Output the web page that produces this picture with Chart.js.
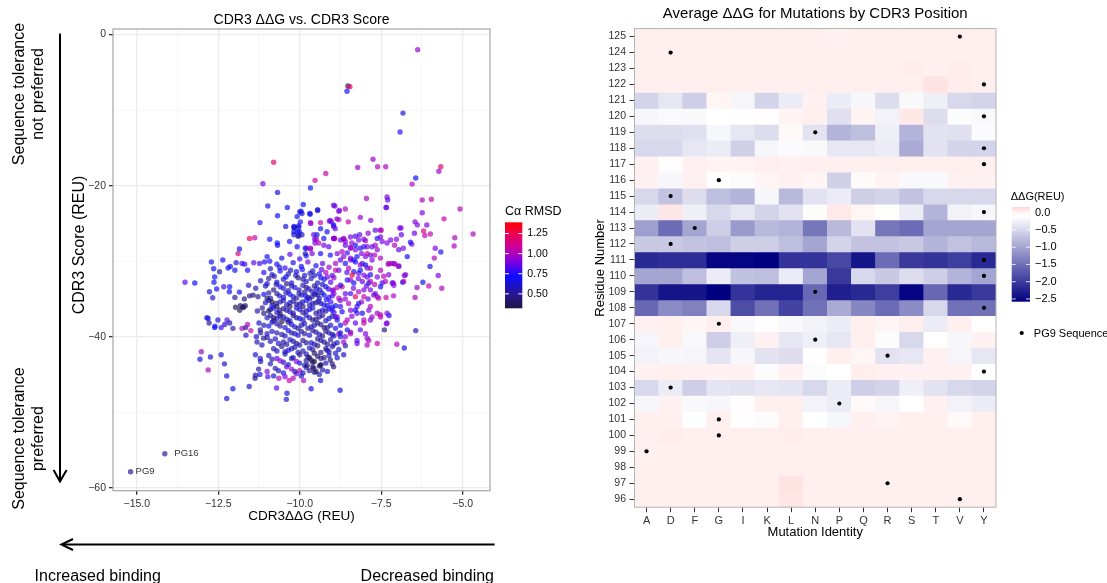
<!DOCTYPE html>
<html>
<head>
<meta charset="utf-8">
<title>CDR3 ΔΔG</title>
<script src="https://cdn.jsdelivr.net/npm/chart.js@4.4.1/dist/chart.umd.min.js"></script>
<style>
  html, body { margin: 0; padding: 0; background: #fff; }
  #wrap { position: relative; width: 1107px; height: 583px; overflow: hidden; background: #fff; }
  canvas, svg { position: absolute; top: 0; }
  #scatter { left: 0; }
  #heat { left: 580px; }
  svg { left: 0; pointer-events: none; }
</style>
</head>
<body>
<div id="wrap">
  <canvas id="scatter" width="580" height="583"></canvas>
  <canvas id="heat" width="527" height="583"></canvas>
  <svg width="1107" height="583" xmlns="http://www.w3.org/2000/svg">
    <g font-family="Liberation Sans, Arial, Helvetica, sans-serif" font-size="16" fill="#000">
      <text transform="translate(18,94) rotate(-90)" text-anchor="middle" dominant-baseline="central">Sequence tolerance</text>
      <text transform="translate(37.5,94) rotate(-90)" text-anchor="middle" dominant-baseline="central">not preferred</text>
      <text transform="translate(18,438.6) rotate(-90)" text-anchor="middle" dominant-baseline="central">Sequence tolerance</text>
      <text transform="translate(37.5,438.6) rotate(-90)" text-anchor="middle" dominant-baseline="central">preferred</text>
      <text x="34.6" y="580.5">Increased binding</text>
      <text x="494" y="580.5" text-anchor="end">Decreased binding</text>
    </g>
    <g stroke="#000" stroke-width="2" fill="none">
      <line x1="60" y1="33.5" x2="60" y2="480"/>
      <polyline points="53.6,470 60,481.4 66.6,470"/>
      <line x1="494.6" y1="544.6" x2="62" y2="544.6"/>
      <polyline points="73,539 61.4,544.6 73,550"/>
    </g>
  </svg>
</div>
<script>
// ---- heatmap: mean ddG per residue position and mutation ----
const aminoAcids = ['A', 'D', 'F', 'G', 'I', 'K', 'L', 'N', 'P', 'Q', 'R', 'S', 'T', 'V', 'Y'];
const residues = [125, 124, 123, 122, 121, 120, 119, 118, 117, 116, 115, 114, 113, 112, 111,
                  110, 109, 108, 107, 106, 105, 104, 103, 102, 101, 100, 99, 98, 97, 96];
// one row per residue (same order as residues), columns follow aminoAcids
const meanDdg = [
  [0.03, 0.03, 0.03, 0.03, 0.03, 0.03, 0.03, 0.03, 0.02, 0.03, 0.03, 0.03, 0.03, 0.03, 0.03],
  [0.03, 0.03, 0.03, 0.03, 0.03, 0.03, 0.03, 0.03, 0.03, 0.03, 0.03, 0.03, 0.03, 0.03, 0.03],
  [0.03, 0.03, 0.03, 0.03, 0.04, 0.03, 0.03, 0.03, 0.03, 0.03, 0.04, 0.05, 0.03, 0.05, 0.03],
  [0.03, 0.03, 0.03, 0.04, 0.03, 0.03, 0.03, 0.03, 0.03, 0.03, 0.03, 0.03, 0.10, 0.05, 0.03],
  [-0.55, -0.35, -0.60, 0.00, -0.22, -0.55, -0.30, 0.02, -0.30, -0.20, -0.45, -0.18, -0.28, -0.50, -0.55],
  [-0.20, -0.17, -0.18, -0.12, -0.11, -0.10, 0.01, 0.03, -0.42, 0.01, -0.25, 0.07, -0.45, -0.15, -0.18],
  [-0.45, -0.45, -0.42, -0.20, -0.35, -0.45, -0.05, -0.40, -0.85, -0.75, -0.28, -0.85, -0.40, -0.42, -0.16],
  [-0.50, -0.50, -0.35, -0.30, -0.58, -0.20, -0.16, -0.18, -0.35, -0.35, -0.30, -0.95, -0.40, -0.55, -0.55],
  [0.02, -0.10, 0.02, 0.01, 0.01, 0.04, 0.02, 0.03, 0.03, 0.03, 0.03, 0.03, 0.03, 0.03, 0.03],
  [0.02, -0.20, 0.02, -0.12, -0.15, 0.00, 0.02, 0.00, -0.58, -0.06, 0.01, -0.18, -0.18, 0.02, 0.02],
  [-0.50, -0.70, -0.45, -0.75, -0.85, -0.20, -0.80, -0.40, -0.30, -0.60, -0.55, -0.70, -0.50, -0.50, -0.50],
  [-0.30, 0.08, -0.28, -0.50, -0.35, -0.55, -0.40, -0.15, 0.07, 0.00, -0.12, -0.30, -0.85, -0.25, -0.20],
  [-1.05, -1.55, -1.00, -0.60, -1.10, -0.80, -0.85, -1.45, -0.80, -0.40, -1.45, -1.55, -1.00, -1.00, -1.00],
  [-0.65, -0.65, -0.70, -0.75, -0.60, -0.60, -0.75, -1.00, -0.55, -0.70, -0.70, -0.65, -0.85, -0.70, -0.80],
  [-2.20, -2.15, -2.15, -2.55, -2.55, -2.65, -2.10, -2.10, -1.90, -2.40, -1.55, -2.05, -2.10, -2.00, -2.20],
  [-1.00, -1.00, -0.75, -0.30, -0.72, -0.75, -0.30, -1.00, -2.05, -0.50, -0.65, -0.45, -0.60, -0.85, -1.00],
  [-2.10, -2.40, -2.40, -2.60, -2.10, -2.25, -2.25, -1.60, -2.30, -2.20, -2.00, -2.55, -1.60, -2.20, -2.05],
  [-1.60, -1.25, -1.35, -0.50, -1.85, -1.50, -1.95, -1.50, -0.95, -1.30, -1.55, -1.25, -0.50, -1.50, -1.50],
  [0.02, 0.03, 0.00, 0.03, -0.18, -0.10, -0.18, -0.25, -0.30, 0.03, 0.00, 0.04, -0.30, 0.03, -0.12],
  [-0.22, 0.03, -0.18, -0.60, -0.28, 0.02, -0.35, -0.28, -0.35, 0.03, -0.15, -0.50, -0.12, -0.20, 0.02],
  [-0.25, -0.20, -0.22, -0.38, -0.20, -0.40, -0.45, -0.10, 0.03, 0.00, -0.40, -0.35, 0.02, -0.22, -0.35],
  [0.02, 0.03, 0.02, 0.02, 0.02, -0.15, 0.02, -0.15, -0.12, 0.04, 0.02, 0.02, 0.02, 0.02, -0.12],
  [-0.50, -0.30, -0.60, -0.38, -0.40, -0.35, -0.38, -0.50, -0.30, -0.60, -0.55, -0.28, -0.40, -0.50, -0.55],
  [-0.20, 0.02, -0.18, -0.20, -0.10, 0.03, 0.03, -0.25, -0.30, -0.05, -0.22, -0.12, 0.02, -0.25, -0.30],
  [0.03, 0.03, -0.12, 0.03, -0.10, -0.15, 0.03, -0.12, -0.20, 0.03, 0.01, 0.03, 0.03, -0.05, 0.03],
  [0.03, 0.05, 0.03, 0.03, 0.04, 0.04, 0.05, 0.03, 0.03, 0.03, 0.03, 0.03, 0.03, 0.03, 0.03],
  [0.02, 0.03, 0.03, 0.03, 0.03, 0.03, 0.03, 0.03, 0.03, 0.03, 0.03, 0.03, 0.03, 0.03, 0.03],
  [0.03, 0.03, 0.03, 0.03, 0.03, 0.03, 0.03, 0.03, 0.03, 0.03, 0.03, 0.03, 0.03, 0.03, 0.03],
  [0.03, 0.03, 0.03, 0.03, 0.03, 0.03, 0.10, 0.03, 0.03, 0.03, 0.03, 0.03, 0.03, 0.03, 0.03],
  [0.03, 0.03, 0.03, 0.03, 0.03, 0.03, 0.08, 0.03, 0.03, 0.03, 0.03, 0.03, 0.03, 0.03, 0.03]
];
// native PG9 residue at each CDR3 position
const pg9Sequence = [
  [125, 'V'], [124, 'D'], [122, 'Y'], [120, 'Y'], [119, 'N'], [118, 'Y'], [117, 'Y'], [116, 'G'],
  [115, 'D'], [114, 'Y'], [113, 'F'], [112, 'D'], [111, 'Y'], [110, 'Y'], [109, 'N'], [108, 'Y'],
  [107, 'G'], [106, 'N'], [105, 'R'], [104, 'Y'], [103, 'D'], [102, 'P'], [101, 'G'], [100, 'G'],
  [99, 'A'], [97, 'R'], [96, 'V']
];
const ddgLegendTicks = [0, -0.5, -1, -1.5, -2, -2.5];

// ---- scatter: designs as [CDR3 ddG, CDR3 score, Ca RMSD] ----
const designs = [
  [-6.38,-2.0,0.95],[-8.52,-6.8,0.35],[-8.46,-6.9,1.2],[-8.55,-7.5,0.7],[-6.83,-10.4,0.65],[-6.92,-12.9,0.75],
  [-10.8,-16.9,1.2],[-7.75,-16.5,0.95],[-8.22,-17.6,0.95],[-7.61,-17.5,1.0],[-7.36,-17.5,1.0],[-5.67,-17.5,1.2],[-5.73,-18.1,0.95],
  [-9.2,-18.4,1.05],[-9.53,-19.3,1.1],[-11.13,-19.75,0.9],[-9.67,-20.3,0.7],[-10.68,-20.9,0.65],[-6.44,-19.0,0.72],[-6.55,-19.8,1.0],
  [-7.32,-21.5,0.9],[-7.3,-21.9,0.85],[-7.95,-21.7,1.0],[-6.24,-21.9,1.0],[-5.96,-21.8,1.05],[-5.08,-23.1,1.0],[-6.24,-23.6,0.9],
  [-7.35,-22.9,0.9],[-5.57,-24.4,1.05],[-4.68,-26.4,1.0],[-5.24,-26.9,1.0],[-5.26,-28.0,1.0],[-6.46,-24.8,0.9],[-6.39,-25.2,0.9],
  [-6.1,-25.2,0.9],[-6.2,-26.0,1.15],[-6.16,-26.6,1.05],[-6.48,-26.3,0.85],[-6.56,-27.75,0.9],[-5.99,-26.4,1.05],[-5.84,-28.3,0.9],
  [-5.67,-28.8,0.75],[-5.87,-29.6,1.0],[-6.0,-30.7,0.7],[-5.75,-31.9,0.9],[-5.64,-33.6,1.0],[-6.04,-33.3,1.05],[-6.22,-32.8,0.7],
  [-6.44,-39.2,0.6],[-6.46,-34.8,1.0],[-6.89,-25.6,0.9],[-6.82,-28.3,0.9],[-6.7,-29.4,0.7],[-6.79,-31.9,0.9],[-6.84,-32.8,0.7],
  [-7.02,-41.0,1.0],[-6.79,-41.5,0.65],[-7.26,-37.2,0.7],[-7.34,-38.3,0.85],[-7.4,-39.1,0.45],[-7.12,-34.6,1.0],[-7.35,-34.8,1.05],
  [-7.13,-32.9,1.0],[-7.07,-30.4,1.1],[-7.28,-30.4,0.9],
  [-11.85,-28.4,0.7],[-11.89,-29.0,1.15],[-11.54,-27.0,1.25],[-11.38,-26.9,1.05],[-11.22,-24.9,0.75],[-10.98,-22.7,0.65],[-10.68,-24.0,0.7],
  [-10.38,-22.9,0.7],[-10.43,-25.4,0.65],[-10.17,-25.6,0.65],[-10.03,-25.3,0.7],[-9.89,-22.5,0.7],[-9.96,-23.4,0.6],[-9.68,-23.8,0.7],
  [-9.45,-23.2,0.75],[-8.92,-22.7,0.9],[-8.8,-23.4,0.9],[-9.09,-24.7,0.85],[-8.86,-24.4,0.9],[-8.51,-24.8,1.05],[-8.14,-24.2,0.95],
  [-7.82,-24.6,0.9],[-9.66,-25.0,0.85],[-9.36,-24.9,1.05],[-9.54,-27.1,0.85],[-8.94,-27.0,1.2],[-8.65,-27.1,0.75],[-7.9,-26.3,0.95],
  [-7.53,-25.9,1.0],[-7.52,-26.8,0.9],
  [-10.92,-27.1,0.7],[-10.68,-27.9,0.7],[-10.03,-26.6,0.5],[-9.49,-27.1,1.0],[-9.53,-27.6,0.9],[-9.79,-28.3,1.0],[-9.67,-28.4,1.0],
  [-12.71,-30.1,0.7],[-12.36,-29.85,0.7],[-12.64,-31.0,0.7],[-12.46,-31.4,0.5],[-12.13,-30.7,0.7],[-11.95,-30.2,0.6],[-11.99,-31.2,0.7],
  [-11.77,-30.3,0.8],[-11.69,-30.4,0.8],[-11.41,-30.2,0.85],[-11.23,-30.3,0.8],[-11.08,-30.1,0.7],[-10.92,-30.0,0.75],
  [-13.52,-32.8,0.85],[-13.22,-32.9,0.7],[-12.61,-32.1,0.7],[-12.63,-32.8,0.7],[-12.55,-33.7,0.75],[-12.77,-34.05,0.6],[-12.67,-34.85,0.6],
  [-12.33,-33.4,0.8],[-12.15,-33.4,0.7],[-12.16,-34.05,0.7],[-11.85,-34.1,0.7],[-11.57,-33.2,0.6],[-11.99,-34.8,0.5],[-11.7,-35.0,0.45],
  [-11.54,-34.6,0.5],[-11.43,-34.5,0.45],[-11.28,-34.7,0.5],[-11.82,-35.9,0.4],[-11.72,-36.1,0.4],[-11.97,-36.1,0.35],[-11.84,-36.5,0.35],
  [-11.75,-36.1,0.4],[-11.67,-35.9,0.4],[-12.81,-37.6,0.7],[-12.78,-38.2,0.5],[-12.61,-38.8,0.7],[-12.41,-38.8,0.8],[-12.51,-37.8,0.65],
  [-12.23,-37.8,0.85],[-12.15,-38.2,0.6],[-11.77,-38.9,1.0],[-11.66,-38.8,0.5],
  [-11.21,-39.1,0.55],[-11.33,-40.0,0.6],[-11.11,-40.2,0.5],[-11.31,-40.7,0.55],[-11.16,-41.1,0.6],
  [-12.2,-30.9,0.7],[-11.6,-31.2,0.7],[-11.0,-29.4,0.7],[-10.55,-29.6,0.65],[-10.3,-29.1,0.85],[-10.0,-29.7,0.8],[-9.8,-29.3,0.7],
  [-10.18,-25.4,0.7],[-10.03,-25.5,0.65],[-10.06,-26.1,0.7],[-9.93,-26.5,0.6],[-10.18,-26.5,0.65],[-10.69,-27.6,0.7],[-10.31,-27.4,0.75],[-10.08,-28.1,0.7],
  [-9.03,-24.8,0.85],[-8.96,-25.4,0.9],[-8.8,-24.5,1.0],
  [-9.57,-26.5,0.85],[-9.42,-27.6,1.0],[-9.26,-27.9,0.9],[-9.11,-28.1,0.85],[-8.96,-27.0,0.9],[-9.67,-28.3,0.95],[-9.83,-28.3,0.7],
  [-9.83,-29.0,0.6],[-9.62,-29.0,0.9],[-9.36,-29.0,0.7],[-9.06,-29.2,0.75],[-8.85,-29.0,0.9],[-8.7,-28.75,1.0],[-8.6,-27.4,0.95],
  [-8.44,-26.8,0.9],[-8.29,-26.7,0.8],[-8.19,-27.2,0.9],[-7.98,-27.3,1.0],[-8.29,-27.9,0.7],[-8.44,-28.2,0.85],[-8.14,-28.3,0.75],
  [-7.93,-28.1,0.9],[-7.68,-27.9,1.0],[-7.47,-27.4,0.9],[-7.62,-28.5,0.95],[-7.83,-29.2,0.85],[-7.98,-29.4,0.9],[-8.24,-29.4,0.7],
  [-8.44,-29.6,0.9],[-8.54,-28.9,0.8],
  [-7.27,-30.3,1.05],[-7.11,-30.3,0.9],[-6.96,-30.7,1.0],[-6.75,-31.8,0.9],[-6.4,-33.5,0.95],[-6.81,-32.7,1.0],[-7.16,-32.9,0.85],
  [-7.37,-32.7,1.0],[-7.27,-31.8,0.9],[-7.52,-31.2,1.0],[-7.62,-32.1,0.9],[-7.83,-31.8,0.75],[-7.93,-30.9,0.9],[-8.08,-30.3,0.85],
  [-8.75,-29.85,0.85],[-8.6,-30.3,0.7],[-8.44,-29.85,0.9],[-8.29,-30.1,0.75],[-8.14,-30.5,0.9],[-7.98,-30.5,0.65],[-7.83,-30.95,1.0],
  [-8.34,-31.4,0.7],[-8.19,-31.6,0.85],[-8.39,-31.85,1.3],[-8.03,-31.85,0.9],[-8.54,-32.5,0.75],[-8.7,-33.4,1.15],[-8.34,-32.9,0.7],
  [-8.08,-32.7,0.85],[-7.88,-32.9,0.7],[-7.83,-33.8,0.9],[-8.19,-34.05,1.0],[-8.44,-34.3,0.8],[-8.03,-34.7,1.05],[-7.73,-34.5,0.9],
  [-7.58,-34.9,1.0],[-7.47,-32.9,0.85],[-8.75,-35.2,0.9],[-8.5,-35.6,1.0],[-8.24,-36.0,0.85],[-7.88,-36.5,0.9],[-7.62,-36.9,0.95],
  [-9.01,-36.5,0.75],[-8.85,-37.4,0.9],[-8.54,-37.8,1.0],[-8.24,-36.9,0.85],[-8.03,-38.2,1.05],[-7.83,-37.8,0.9],[-7.52,-37.4,1.0],
  [-7.32,-38.2,0.95],[-8.14,-39.1,0.85],[-8.44,-39.6,1.0],[-8.6,-40.0,0.9],[-7.93,-40.2,0.95],[-7.62,-40.9,1.05],[-8.24,-40.9,0.85],
  [-8.75,-38.5,0.7],
  [-10.0,-23.5,0.7],[-9.93,-23.7,0.65],[-10.08,-24.1,0.7],[-9.98,-24.8,0.75],[-10.16,-25.5,0.6],[-10.01,-26.1,0.7],[-10.05,-26.7,0.55],
  [-10.18,-26.1,0.65],[-9.69,-23.7,0.7],[-9.45,-23.3,0.6],[-9.67,-24.9,1.0],[-9.36,-25.7,0.7],[-9.47,-26.5,0.65],[-9.26,-27.0,0.7],
  [-9.06,-24.6,0.9],[-8.96,-22.6,0.85],[-8.78,-23.3,0.9],[-8.6,-23.1,1.0],[-8.96,-25.2,0.7],[-9.16,-26.1,0.7],[-8.96,-27.0,1.0],[-8.65,-27.0,1.0],
  [-7.34,-22.9,0.85],[-6.6,-27.5,0.7],[-6.93,-25.6,0.9],[-6.88,-26.5,0.85],[-7.03,-27.1,0.9],[-7.09,-27.9,1.0],[-6.96,-28.5,0.85],
  [-7.21,-27.2,0.9],[-7.32,-27.6,0.9],[-7.5,-25.9,1.0],[-7.68,-25.9,0.85],[-7.62,-27.0,0.75],[-7.78,-28.1,0.85],[-8.03,-27.1,0.9],
  [-8.16,-26.5,0.85],[-8.91,-25.7,0.85],[-8.93,-27.0,0.9],
  [-6.96,-30.65,0.9],[-7.18,-30.3,0.95],[-7.42,-32.0,1.0],[-7.52,-33.4,0.7],[-7.11,-33.2,0.9],[-7.83,-32.7,1.0],[-7.62,-34.7,1.0],
  [-7.88,-40.5,1.0],[-7.93,-41.1,1.0],
  [-8.75,-27.2,0.9],[-8.6,-27.9,0.85],[-8.44,-28.3,1.0],[-8.29,-28.5,0.9],[-8.03,-28.1,0.8],[-7.93,-29.0,1.05],[-7.78,-29.85,0.9],
  [-7.52,-29.6,1.0],[-8.34,-29.85,0.75],[-8.65,-29.4,0.9],[-8.9,-30.3,1.0],[-8.8,-31.2,0.85],[-8.5,-30.95,1.0],[-8.14,-31.2,0.7],
  [-7.93,-32.1,0.85],[-8.44,-32.5,0.9],[-8.75,-33.2,0.75],[-8.96,-33.8,1.0],[-8.6,-34.3,0.85],[-8.29,-34.7,1.2],[-8.03,-33.8,0.9],
  [-7.68,-34.3,0.85],[-7.83,-36.0,1.0],[-8.08,-36.9,0.7],[-8.44,-36.5,0.9],[-8.75,-36.0,0.8],[-8.9,-37.4,0.9],[-8.6,-38.2,1.0],
  [-8.29,-38.2,0.85],[-8.03,-37.8,1.0],[-7.78,-37.4,0.95],[-7.52,-37.1,1.05],[-7.32,-36.9,0.9],[-7.98,-39.6,0.9],[-8.44,-39.4,0.95],
  [-8.8,-39.6,1.0],[-8.65,-40.7,0.95],[-8.24,-40.5,0.85],
  [-8.4,-27.6,0.95],[-8.1,-29.0,0.9],[-7.7,-29.2,1.0],[-8.55,-31.5,0.85],[-8.2,-32.3,0.9],[-7.95,-33.3,0.85],[-7.7,-33.1,1.0],
  [-8.35,-33.6,0.9],[-8.6,-35.0,0.95],[-8.1,-35.4,1.0],[-7.9,-35.0,0.85],[-8.4,-37.3,0.9],[-8.7,-36.7,0.75],
  [-10.7,-30.4,0.7],[-10.45,-30.9,0.8],[-10.2,-30.2,0.65],[-9.95,-30.7,0.7],[-9.75,-30.1,0.9],[-9.5,-30.6,0.75],[-9.3,-30.3,0.85],
  [-9.1,-30.8,0.95],[-10.9,-31.0,0.6],
  [-11.1,-31.5,0.75],[-10.85,-31.8,0.6],[-10.6,-31.3,0.7],[-10.35,-31.7,0.55],[-10.1,-31.4,0.7],[-9.85,-31.9,0.65],[-9.6,-31.3,0.6],
  [-9.4,-31.7,0.7],[-9.2,-31.5,1.0],[-9.0,-31.9,0.8],[-8.9,-31.2,1.05],
  [-10.62,-30.8,0.65],[-10.28,-31.2,0.6],[-9.92,-31.1,0.75],[-9.68,-31.6,0.55],[-9.33,-31.1,0.85],[-10.78,-32.0,0.55],[-10.42,-32.1,0.7],
  [-10.12,-31.9,0.6],[-9.9,-32.4,0.5],[-9.55,-31.9,0.6],[-9.35,-32.2,0.65],[-9.15,-32.1,0.9],
  [-11.2,-32.6,0.6],[-10.95,-32.3,0.5],[-10.7,-32.8,0.65],[-10.5,-32.4,0.6],[-10.25,-32.9,0.7],[-10.05,-32.2,0.5],[-9.8,-32.7,0.6],
  [-9.65,-32.3,0.55],[-9.45,-32.9,0.6],[-9.25,-32.4,0.7],[-9.05,-32.8,0.85],[-8.95,-32.2,0.95],[-10.4,-33.0,0.45],
  [-11.0,-33.0,0.65],[-10.72,-33.1,0.55],[-10.5,-33.6,0.6],[-10.25,-33.3,0.5],[-10.02,-33.8,0.6],[-9.8,-33.5,0.45],[-9.48,-33.6,0.65],
  [-9.3,-33.1,0.6],[-9.12,-33.7,0.8],
  [-11.35,-33.6,0.55],[-11.05,-33.3,0.6],[-10.8,-33.8,0.45],[-10.6,-33.4,0.7],[-10.35,-33.9,0.6],[-10.15,-33.5,0.65],[-9.9,-33.2,0.55],
  [-9.72,-33.7,0.6],[-9.55,-33.3,0.5],[-9.38,-33.8,0.55],[-9.2,-33.4,0.65],[-9.0,-33.9,0.9],[-8.85,-33.5,1.0],[-9.62,-34.0,0.55],[-9.85,-34.1,0.5],
  [-10.95,-34.2,0.5],[-10.62,-34.6,0.6],[-10.42,-34.2,0.55],[-10.2,-34.7,0.65],[-10.02,-34.3,0.5],[-9.82,-34.6,0.7],[-9.62,-34.7,0.55],
  [-9.45,-34.5,0.45],[-9.32,-34.2,0.6],[-9.18,-35.1,0.7],[-9.0,-34.6,0.85],
  [-11.1,-34.4,0.7],[-10.9,-34.9,0.55],[-10.7,-34.3,0.5],[-10.5,-34.8,0.65],[-10.3,-34.4,0.7],[-10.1,-34.9,0.55],[-9.95,-34.5,0.6],
  [-9.75,-34.8,0.5],[-9.55,-34.4,0.55],[-9.4,-34.9,0.6],[-9.25,-34.5,0.7],[-9.1,-34.8,0.75],[-8.95,-34.3,0.9],[-8.8,-34.9,1.0],
  [-9.5,-34.2,0.6],[-9.7,-35.0,0.6],
  [-10.95,-35.2,0.6],[-10.72,-35.6,0.5],[-10.5,-35.2,0.55],[-10.3,-35.5,0.65],[-10.1,-35.7,0.5],[-9.92,-35.4,0.6],[-9.7,-35.8,0.55],
  [-9.5,-35.5,0.45],[-9.35,-35.6,0.6],[-9.15,-35.9,0.65],
  [-11.05,-35.5,0.6],[-10.85,-35.9,0.7],[-10.6,-35.4,0.55],[-10.4,-35.8,0.6],[-10.2,-35.3,0.5],[-10.0,-35.7,0.55],[-9.8,-35.2,0.65],
  [-9.6,-35.6,0.6],[-9.42,-35.3,0.55],[-9.25,-35.8,0.65],[-9.05,-35.4,0.8],[-8.9,-35.9,0.7],[-10.3,-36.0,0.4],[-9.9,-36.0,0.45],
  [-11.15,-36.2,0.5],[-10.8,-36.2,0.6],[-10.62,-36.5,0.55],[-10.4,-36.5,0.6],[-10.2,-36.9,0.5],[-10.0,-36.4,0.65],[-9.8,-36.6,0.55],
  [-9.6,-36.2,0.6],[-9.4,-36.7,0.5],[-9.2,-36.6,0.45],[-9.0,-36.1,0.7],
  [-11.3,-36.6,0.55],[-11.1,-36.9,0.45],[-10.9,-36.4,0.65],[-10.7,-36.8,0.6],[-10.5,-36.3,0.45],[-10.3,-36.7,0.55],[-10.1,-36.2,0.6],
  [-9.9,-36.8,0.5],[-9.7,-36.4,0.65],[-9.5,-36.9,0.55],[-9.3,-36.5,0.6],[-9.1,-36.3,0.75],[-8.95,-36.8,0.8],
  [-10.9,-37.2,0.55],[-10.7,-37.6,0.6],[-10.5,-37.4,0.5],[-10.3,-37.9,0.6],[-10.1,-37.5,0.45],[-9.9,-37.8,0.55],[-9.7,-37.5,0.6],
  [-9.5,-37.7,0.5],[-9.3,-37.2,0.55],[-9.1,-37.6,0.65],
  [-11.0,-37.5,0.6],[-10.8,-37.9,0.5],[-10.6,-37.3,0.65],[-10.4,-37.7,0.6],[-10.2,-37.2,0.55],[-10.0,-37.6,0.7],[-9.8,-37.2,0.6],
  [-9.6,-37.8,0.45],[-9.4,-37.4,0.5],[-9.2,-37.9,0.6],[-9.0,-37.3,0.55],[-8.85,-37.8,0.65],
  [-11.1,-38.5,0.55],[-10.85,-38.1,0.6],[-10.6,-38.6,0.5],[-10.35,-38.1,0.45],[-10.15,-38.7,0.6],[-9.95,-38.5,0.55],[-9.75,-38.9,0.5],
  [-9.55,-38.5,0.6],[-9.35,-38.4,0.55],[-9.15,-38.8,0.5],
  [-11.25,-38.2,0.6],[-10.95,-38.6,0.7],[-10.7,-38.3,0.55],[-10.45,-38.8,0.6],[-10.25,-38.4,0.65],[-10.05,-38.9,0.5],[-9.85,-38.3,0.6],
  [-9.65,-38.7,0.55],[-9.45,-38.2,0.45],[-9.25,-38.8,0.4],[-9.05,-38.5,0.6],[-8.9,-38.9,0.7],
  [-11.0,-39.6,0.6],[-10.7,-39.5,0.55],[-10.45,-39.9,0.6],[-10.25,-39.5,0.5],[-10.05,-39.8,0.65],[-9.85,-39.6,0.5],[-9.6,-39.2,0.55],
  [-9.4,-39.7,0.6],[-9.2,-39.3,0.5],[-9.0,-39.7,0.55],
  [-10.85,-39.3,0.6],[-10.55,-39.7,0.55],[-10.35,-39.2,0.7],[-10.15,-39.6,0.6],[-9.95,-39.3,0.55],[-9.7,-39.8,0.65],[-9.5,-39.4,0.5],
  [-9.3,-39.9,0.45],[-9.1,-39.5,0.55],[-8.95,-39.9,0.6],[-8.75,-39.5,0.7],
  [-10.9,-40.6,0.55],[-10.65,-40.9,0.6],[-10.4,-41.0,0.5],[-10.2,-40.6,0.55],[-10.0,-41.1,0.6],[-9.8,-40.8,0.5],[-9.55,-41.0,0.55],
  [-9.35,-40.5,0.6],[-9.15,-41.0,0.5],[-8.95,-41.0,0.55],
  [-10.75,-40.3,0.6],[-10.5,-40.7,0.55],[-10.3,-40.4,0.6],[-10.1,-40.9,0.45],[-9.9,-40.5,0.5],[-9.65,-40.8,0.6],[-9.45,-40.3,0.5],
  [-9.25,-40.7,0.45],[-9.05,-40.4,0.55],[-8.85,-40.8,0.6],
  [-10.7,-41.9,0.6],[-10.45,-42.0,0.55],[-10.25,-41.6,0.5],[-10.05,-42.1,0.6],[-9.8,-42.3,0.55],[-9.6,-41.7,0.5],[-9.35,-42.1,0.45],
  [-9.1,-42.0,0.55],[-8.9,-42.2,0.6],
  [-10.8,-41.6,0.55],[-10.55,-41.3,0.5],[-10.35,-41.8,0.75],[-10.15,-41.4,0.6],[-9.9,-41.9,0.55],[-9.7,-41.5,0.6],[-9.45,-41.2,0.45],
  [-9.2,-41.6,0.5],[-9.0,-41.3,0.55],[-8.8,-41.7,0.6],[-8.6,-41.2,0.55],
  [-10.95,-42.5,0.6],[-10.7,-42.9,0.85],[-10.45,-42.3,0.55],[-10.2,-42.8,0.6],[-10.0,-42.4,0.5],[-9.75,-42.7,0.55],[-9.55,-42.2,0.4],
  [-9.35,-42.9,0.5],[-9.1,-42.5,0.6],[-8.85,-42.8,0.65],[-8.65,-42.4,0.6],
  [-10.85,-43.0,0.55],[-10.5,-43.4,0.6],[-10.25,-42.9,0.55],[-10.0,-43.5,0.65],[-9.8,-43.2,0.5],[-9.25,-42.8,0.45],[-9.0,-43.6,0.5],
  [-11.2,-43.3,0.6],[-10.9,-43.6,0.55],[-10.6,-43.2,0.95],[-10.35,-43.7,0.6],[-10.1,-43.3,0.9],[-9.85,-43.8,0.55],[-9.6,-43.4,0.45],
  [-9.4,-43.9,0.5],[-9.65,-43.1,0.4],[-9.2,-43.5,0.6],
  [-11.0,-44.6,0.9],[-10.75,-44.2,0.55],[-10.5,-44.8,0.65],[-10.25,-44.3,0.95],[-10.0,-44.5,1.0],[-9.8,-44.1,0.55],[-9.55,-44.7,0.5],
  [-9.3,-44.4,0.55],[-10.1,-44.9,0.85],
  [-10.65,-44.5,0.6],[-10.4,-44.0,0.85],[-10.15,-44.6,0.55],[-9.9,-44.8,0.6],[-9.7,-44.5,0.5],[-9.4,-45.0,0.55],[-9.15,-44.6,0.6],
  [-10.45,-45.3,0.9],[-10.2,-45.5,1.0],[-9.95,-45.2,0.6],
  [-13.02,-42.0,0.95],[-13.06,-43.0,0.65],[-12.81,-44.4,1.0],[-12.74,-42.7,0.65],[-12.41,-42.4,0.65],[-12.31,-43.6,0.6],[-12.24,-45.2,0.65],
  [-12.05,-46.9,0.65],[-12.24,-48.2,0.65],[-11.55,-46.6,0.6],[-11.37,-45.5,0.45],[-11.22,-45.0,0.65],[-10.98,-45.3,0.8],[-10.71,-46.8,0.85],
  [-10.39,-47.5,0.65],[-10.41,-48.3,0.65],[-10.32,-45.8,1.05],[-9.88,-45.8,1.0],[-9.65,-46.9,0.65],[-9.36,-45.8,0.65],[-8.76,-47.1,0.65],
  [-11.36,-42.4,0.65],[-11.21,-42.9,0.6],[-11.26,-44.3,0.55],[-11.36,-45.1,0.6],[-10.64,-45.5,1.0],[-10.8,-45.2,0.6],
  [-12.85,-37.5,0.65],[-12.6,-38.6,0.7],[-12.3,-38.4,0.6],[-12.05,-38.9,0.55],[-11.6,-38.4,1.0],[-11.5,-39.2,1.05],[-11.65,-39.8,0.6],
  [-11.2,-39.5,0.5],[-11.0,-40.1,0.55],
  [-9.06,-43.1,0.4],[-8.96,-44.0,0.45],[-9.36,-43.8,0.4],[-9.57,-44.2,0.4],[-9.77,-43.8,0.45],[-9.16,-41.8,0.55],[-8.75,-40.0,0.6],
  [-8.54,-39.1,0.65],[-8.29,-36.5,0.7],[-8.19,-35.6,0.75],
  [-9.7,-42.8,0.35],[-9.55,-43.3,0.35],[-9.45,-42.6,0.4],[-9.6,-44.0,0.4],[-9.35,-43.7,0.35],[-9.5,-44.6,0.4],
  [-11.0,-34.9,0.4],[-10.85,-35.4,0.35],[-10.7,-36.0,0.4],[-10.95,-36.6,0.35],[-10.6,-37.0,0.4],[-10.8,-37.5,0.4],[-10.55,-38.0,0.35]
];
// the two parent antibodies, labelled on the plot
const parents = [
  { name: 'PG9', x: -15.19, y: -57.9, r: 0.5 },
  { name: 'PG16', x: -14.14, y: -55.5, r: 0.5 }
];
const ddgTicks = [-15, -12.5, -10, -7.5, -5];
const ddgMinorTicks = [-13.75, -11.25, -8.75, -6.25];
const scoreTicks = [-60, -40, -20, 0];
const scoreMinorTicks = [-50, -30, -10];
const rmsdTicks = [0.5, 0.75, 1.0, 1.25];

// ---- colour scales ----
const rmsdStops = [
  [0.32, [30, 22, 66]], [0.5, [40, 22, 150]], [0.72, [12, 12, 255]], [0.9, [125, 0, 225]],
  [1.05, [195, 0, 170]], [1.25, [240, 0, 80]], [1.39, [255, 0, 0]]
];
const ddgStops = [[-2.6, [0, 0, 128]], [-0.12, [255, 255, 255]], [0, [255, 245, 245]], [0.16, [255, 215, 215]]];

function lerpStops(stops, v) {
  if (v <= stops[0][0]) return stops[0][1];
  for (let i = 1; i < stops.length; i++) {
    if (v <= stops[i][0]) {
      const [v0, c0] = stops[i - 1];
      const [v1, c1] = stops[i];
      const t = (v - v0) / (v1 - v0);
      return c0.map((c, k) => Math.round(c + (c1[k] - c) * t));
    }
  }
  return stops[stops.length - 1][1];
}
const rgba = (c, a) => `rgba(${c[0]},${c[1]},${c[2]},${a})`;
const rmsdColor = (v, a) => rgba(lerpStops(rmsdStops, v), a);
const ddgColor = v => rgba(lerpStops(ddgStops, v), 1);

const FONT = "'Liberation Sans', Arial, Helvetica, sans-serif";
Chart.defaults.font.family = FONT;
Chart.defaults.color = '#333';

const near = (list, v) => list.some(t => Math.abs(t - v) < 1e-6);
const minus = s => s.replace('-', '\u2212');

// panel border, y title, point labels and colour bar for the scatter
const scatterDecor = {
  id: 'scatterDecor',
  afterDraw(chart) {
    const { ctx, chartArea: a, scales: { x, y } } = chart;
    ctx.save();
    ctx.strokeStyle = '#a6a6a6';
    ctx.lineWidth = 1.2;
    ctx.strokeRect(a.left, a.top, a.right - a.left, a.bottom - a.top);

    ctx.fillStyle = '#333';
    ctx.font = '9.5px ' + FONT;
    ctx.textBaseline = 'middle';
    ctx.textAlign = 'left';
    const labelGap = { PG9: 5, PG16: 9.5 };
    parents.forEach(p => {
      ctx.fillText(p.name, x.getPixelForValue(p.x) + labelGap[p.name], y.getPixelForValue(p.y));
    });

    ctx.fillStyle = '#000';
    ctx.font = '16px ' + FONT;
    ctx.textAlign = 'center';
    ctx.translate(80, 245);
    ctx.rotate(-Math.PI / 2);
    ctx.fillText('CDR3 Score (REU)', 0, 0);
    ctx.setTransform(1, 0, 0, 1, 0, 0);

    // colour bar
    const bx = 505, bw = 17.3, vTop = 1.39, vBot = 0.32, yTop = 222.3, yBot = 308.3;
    const py = v => yBot - (v - vBot) / (vTop - vBot) * (yBot - yTop);
    const g = ctx.createLinearGradient(0, yBot, 0, yTop);
    rmsdStops.forEach(([v, c]) => g.addColorStop(Math.min(1, Math.max(0, (v - vBot) / (vTop - vBot))), rgba(c, 1)));
    ctx.fillStyle = g;
    ctx.fillRect(bx, yTop, bw, yBot - yTop);
    ctx.strokeStyle = '#fff';
    ctx.lineWidth = 1;
    ctx.font = '10.5px ' + FONT;
    ctx.fillStyle = '#000';
    ctx.textAlign = 'left';
    rmsdTicks.forEach(v => {
      const yy = py(v);
      ctx.beginPath();
      ctx.moveTo(bx, yy); ctx.lineTo(bx + 4, yy);
      ctx.moveTo(bx + bw - 4, yy); ctx.lineTo(bx + bw, yy);
      ctx.stroke();
      ctx.fillText(v.toFixed(2), bx + bw + 5, yy);
    });
    ctx.font = '12.5px ' + FONT;
    ctx.fillText('C\u03b1 RMSD', bx, 212);
    ctx.restore();
  }
};

new Chart(document.getElementById('scatter'), {
  type: 'scatter',
  data: {
    datasets: [
      {
        data: designs.map(d => ({ x: d[0], y: d[1], r: d[2] })),
        pointRadius: 2.7,
        pointBorderWidth: 0,
        pointBackgroundColor: c => rmsdColor(c.raw.r, 0.68)
      },
      {
        data: parents.map(p => ({ x: p.x, y: p.y, r: p.r })),
        pointRadius: 2.7,
        pointBorderWidth: 0,
        pointBackgroundColor: c => rmsdColor(c.raw.r, 0.68)
      }
    ]
  },
  options: {
    responsive: false,
    animation: false,
    devicePixelRatio: 1,
    layout: { padding: { left: 0, right: 90, top: 0, bottom: 58.3 } },
    plugins: {
      legend: { display: false },
      tooltip: { enabled: false },
      title: {
        display: true,
        fullSize: false,
        text: 'CDR3 \u0394\u0394G vs. CDR3 Score',
        color: '#000',
        font: { size: 14, weight: 'normal' },
        padding: { top: 11.6, bottom: 0.6 }
      }
    },
    scales: {
      x: {
        type: 'linear',
        min: -15.73,
        max: -4.16,
        afterBuildTicks: s => {
          s.ticks = [...ddgTicks, ...ddgMinorTicks].sort((p, q) => p - q).map(v => ({ value: v }));
        },
        afterFit: s => { s.height = 34; },
        ticks: {
          autoSkip: false,
          maxRotation: 0,
          padding: 3,
          color: '#333',
          font: { size: 10.5 },
          callback: v => near(ddgTicks, v) ? minus(v.toFixed(1)) : ''
        },
        grid: {
          color: c => (c.tick && near(ddgTicks, c.tick.value)) ? '#ebebeb' : '#f5f5f5',
          lineWidth: c => (c.tick && near(ddgTicks, c.tick.value)) ? 1.3 : 0.8,
          tickColor: c => (c.tick && near(ddgTicks, c.tick.value)) ? '#333' : 'rgba(0,0,0,0)',
          tickLength: 4
        },
        border: { display: false },
        title: {
          display: true,
          text: 'CDR3\u0394\u0394G (REU)',
          color: '#000',
          font: { size: 13.5 },
          padding: { top: 0, bottom: 0.6 }
        }
      },
      y: {
        type: 'linear',
        min: -60.4,
        max: 0.74,
        afterBuildTicks: s => {
          s.ticks = [...scoreTicks, ...scoreMinorTicks].sort((p, q) => p - q).map(v => ({ value: v }));
        },
        afterFit: s => { s.width = 113; },
        ticks: {
          autoSkip: false,
          padding: 3,
          color: '#333',
          font: { size: 10.5 },
          callback: v => near(scoreTicks, v) ? minus(String(v)) : ''
        },
        grid: {
          color: c => (c.tick && near(scoreTicks, c.tick.value)) ? '#ebebeb' : '#f5f5f5',
          lineWidth: c => (c.tick && near(scoreTicks, c.tick.value)) ? 1.3 : 0.8,
          tickColor: c => (c.tick && near(scoreTicks, c.tick.value)) ? '#333' : 'rgba(0,0,0,0)',
          tickLength: 4
        },
        border: { display: false }
      }
    }
  },
  plugins: [scatterDecor]
});

// panel border and the two legends beside the heatmap
const heatDecor = {
  id: 'heatDecor',
  afterDraw(chart) {
    const { ctx, chartArea: a } = chart;
    ctx.save();
    ctx.strokeStyle = '#b3b3b3';
    ctx.lineWidth = 1;
    ctx.strokeRect(a.left, a.top, a.right - a.left, a.bottom - a.top);

    const bx = 431.7, bw = 18.3, vTop = 0.165, vBot = -2.58, yTop = 207, yBot = 301.7;
    const py = v => yBot - (v - vBot) / (vTop - vBot) * (yBot - yTop);
    const g = ctx.createLinearGradient(0, yBot, 0, yTop);
    ddgStops.forEach(([v, c]) => g.addColorStop(Math.min(1, Math.max(0, (v - vBot) / (vTop - vBot))), rgba(c, 1)));
    ctx.fillStyle = g;
    ctx.fillRect(bx, yTop, bw, yBot - yTop);
    ctx.strokeStyle = 'rgba(255,255,255,0.8)';
    ctx.font = '11px ' + FONT;
    ctx.fillStyle = '#000';
    ctx.textBaseline = 'middle';
    ctx.textAlign = 'left';
    ddgLegendTicks.forEach(v => {
      const yy = py(v);
      ctx.beginPath();
      ctx.moveTo(bx, yy); ctx.lineTo(bx + 4, yy);
      ctx.moveTo(bx + bw - 4, yy); ctx.lineTo(bx + bw, yy);
      ctx.stroke();
      ctx.fillText(minus(v.toFixed(1)), bx + bw + 5, yy);
    });
    ctx.fillText('\u0394\u0394G(REU)', bx - 1, 196.7);

    ctx.beginPath();
    ctx.arc(441.7, 333, 2.1, 0, Math.PI * 2);
    ctx.fill();
    ctx.fillText('PG9 Sequence', 453.8, 333.5);
    ctx.restore();
  }
};

new Chart(document.getElementById('heat'), {
  type: 'bar',
  data: {
    labels: aminoAcids,
    datasets: [
      {
        type: 'line',
        data: pg9Sequence.map(([res, aa]) => ({ x: aa, y: res })),
        showLine: false,
        pointRadius: 2.1,
        pointBorderWidth: 0,
        pointBackgroundColor: '#000',
        order: 0
      },
      ...residues.map((res, i) => ({
        data: aminoAcids.map(() => [res - 0.5, res + 0.5]),
        backgroundColor: meanDdg[i].map(ddgColor),
        borderWidth: 0,
        barPercentage: 1,
        categoryPercentage: 1,
        grouped: false,
        order: 1
      }))
    ]
  },
  options: {
    responsive: false,
    animation: false,
    devicePixelRatio: 1,
    layout: { padding: { left: 0, right: 111, top: 0, bottom: 35.8 } },
    plugins: {
      legend: { display: false },
      tooltip: { enabled: false },
      title: {
        display: true,
        fullSize: false,
        text: 'Average \u0394\u0394G for Mutations by CDR3 Position',
        color: '#000',
        font: { size: 15, weight: 'normal' },
        padding: { top: 5, bottom: 5.6 }
      }
    },
    scales: {
      x: {
        type: 'category',
        offset: true,
        afterFit: s => { s.height = 40; },
        ticks: { autoSkip: false, maxRotation: 0, padding: 2, color: '#333', font: { size: 11 } },
        grid: { offset: false, drawOnChartArea: false, tickLength: 5, color: '#333' },
        border: { display: false },
        title: {
          display: true,
          text: 'Mutation Identity',
          color: '#000',
          font: { size: 13 },
          padding: { top: 0, bottom: 6.6 }
        }
      },
      y: {
        type: 'linear',
        min: 95.5,
        max: 125.5,
        afterBuildTicks: s => { s.ticks = residues.map(v => ({ value: v })); },
        afterFit: s => { s.width = 54.5; },
        ticks: { autoSkip: false, padding: 3.5, color: '#333', font: { size: 10.5 } },
        grid: { drawOnChartArea: false, tickLength: 5, color: '#333' },
        border: { display: false },
        title: {
          display: true,
          text: 'Residue Number',
          color: '#000',
          font: { size: 13 },
          padding: { top: 12.2, bottom: 0 }
        }
      }
    }
  },
  plugins: [heatDecor]
});
</script>
</body>
</html>
